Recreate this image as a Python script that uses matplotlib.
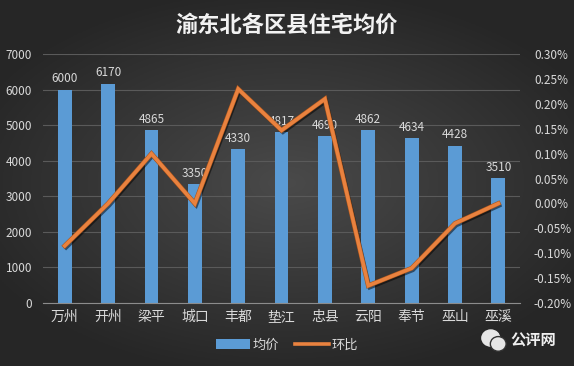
import numpy as np
import matplotlib
matplotlib.use("Agg")
import matplotlib.pyplot as plt
import matplotlib.patheffects as pe
from matplotlib.lines import Line2D
from matplotlib.patches import Patch, Ellipse

plt.rcParams['font.family'] = ['Noto Sans CJK SC', 'DejaVu Sans']

# data
districts = ['万州', '开州', '梁平', '城口', '丰都', '垫江', '忠县', '云阳', '奉节', '巫山', '巫溪']
avg_price = [6000, 6170, 4865, 3350, 4330, 4817, 4690, 4862, 4634, 4428, 3510]
mom_pct = [-0.085, 0.00, 0.10, 0.00, 0.23, 0.147, 0.21, -0.165, -0.13, -0.04, 0.00]
pct_ticks = [-0.20, -0.15, -0.10, -0.05, 0.00, 0.05, 0.10, 0.15, 0.20, 0.25, 0.30]
pct_labels = ['-0.20%', '-0.15%', '-0.10%', '-0.05%', '0.00%', '0.05%',
              '0.10%', '0.15%', '0.20%', '0.25%', '0.30%']

txt = '#d9d9d9'
bar_col = '#5b9bd5'
line_col = '#e9823f'

fig = plt.figure(figsize=(5.74, 3.66), dpi=100)

# dark radial background
bg = fig.add_axes([0, 0, 1, 1], zorder=0)
yy, xx = np.mgrid[-1:1:200j, -1:1:300j]
r = np.sqrt((xx / 1.1) ** 2 + (yy / 1.0) ** 2)
shade = np.clip(0.29 - 0.13 * r, 0.15, 0.3)
bg.imshow(np.dstack([shade] * 3), extent=[0, 1, 0, 1], aspect='auto')
bg.set_axis_off()

ax = fig.add_axes([0.075, 0.172, 0.831, 0.680], zorder=1)
ax.patch.set_alpha(0)
x = np.arange(len(districts))
bars = ax.bar(x, avg_price, 0.32, color=bar_col, zorder=2)
for xi, v in zip(x, avg_price):
    ax.text(xi, v + 120, str(v), ha='center', va='bottom', color=txt, fontsize=8.5, zorder=3)

ax.set_xlim(-0.5, len(districts) - 0.5)
ax.set_ylim(0, 7000)
ax.set_yticks(range(0, 7001, 1000))
ax.set_xticks(x)
ax.set_xticklabels(districts, fontsize=10, color=txt)
ax.tick_params(axis='y', labelsize=8.5, colors=txt, length=0, pad=8)
ax.tick_params(axis='x', length=0, pad=5)
ax.grid(axis='y', color='#5a5a5a', linewidth=0.8, zorder=0)
for s in ['top', 'right', 'left']:
    ax.spines[s].set_visible(False)
ax.spines['bottom'].set_color('#8c8c8c')

ax2 = ax.twinx()
ax2.plot(x, mom_pct, color=line_col, linewidth=2.6, solid_joinstyle='miter', zorder=4,
         path_effects=[pe.SimpleLineShadow(offset=(1, -1.5), shadow_color='black', alpha=0.5),
                       pe.Stroke(linewidth=3.4, foreground='#a8541c'), pe.Normal()])
ax2.set_ylim(-0.20, 0.30)
ax2.set_yticks(pct_ticks)
ax2.set_yticklabels(pct_labels)
ax2.tick_params(axis='y', labelsize=8.5, colors=txt, length=0, pad=10)
for s in ax2.spines.values():
    s.set_visible(False)

fig.text(0.5, 0.93, '渝东北各区县住宅均价', ha='center', va='center',
         fontsize=16, fontweight='bold', color='#f2f2f2')

handles = [Patch(facecolor=bar_col, label='均价'),
           Line2D([0], [0], color=line_col, linewidth=2.6, label='环比')]
fig.legend(handles=handles, loc='center', bbox_to_anchor=(0.5, 0.057), ncol=2,
           frameon=False, fontsize=9.5, labelcolor=txt, handlelength=2.6,
           handletextpad=0.2, columnspacing=1.2)

# watermark
wm = fig.add_axes([0.835, 0.03, 0.05, 0.08], zorder=2)
wm.add_patch(Ellipse((0.40, 0.58), 0.62, 0.55, color='#e6e6e6'))
wm.add_patch(Ellipse((0.66, 0.38), 0.55, 0.50, color='#e6e6e6', ec='#333333', lw=1))
wm.set_xlim(0, 1)
wm.set_ylim(0, 1)
wm.set_axis_off()
fig.text(0.89, 0.07, '公评网', ha='left', va='center', fontsize=11,
         fontweight='bold', color='#f0f0f0')

fig.savefig('out.png', dpi=100)
